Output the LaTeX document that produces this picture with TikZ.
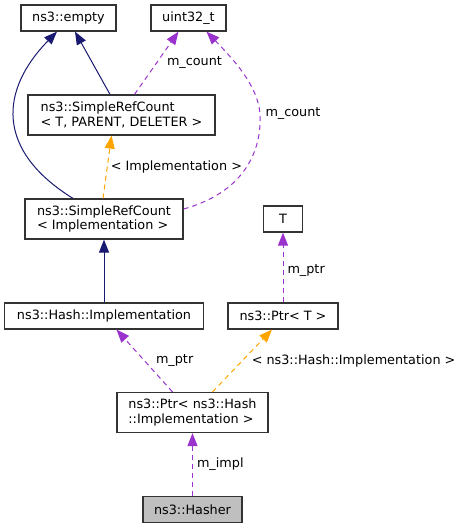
\documentclass[tikz,border=0pt]{standalone}
\usepackage{fontspec}
\setmainfont{DejaVu Sans}
\usetikzlibrary{arrows.meta, positioning}
\definecolor{inheritblue}{HTML}{191970}
\definecolor{memberpurple}{HTML}{9A32CD}
\definecolor{tmplorange}{HTML}{FFA500}
\definecolor{hashergray}{HTML}{BFBFBF}
\tikzstyle{classbox} = [rectangle, draw=black!80, line width=1.2pt, fill=white, inner sep=0pt, minimum height=26pt, text centered, font=\fontsize{12.8}{14.3}\selectfont]
\tikzstyle{twoline} = [classbox, minimum height=40pt, align=left]
\tikzstyle{inherit} = [draw=inheritblue, line width=1pt, -{Triangle[length=13pt,width=10pt]}]
\tikzstyle{member} = [draw=memberpurple, line width=1pt, dash pattern=on 5pt off 4pt, -{Triangle[length=13pt,width=10pt]}]
\tikzstyle{tmpl} = [draw=tmplorange, line width=1pt, dash pattern=on 5pt off 4pt, -{Triangle[length=13pt,width=10pt]}]
\tikzstyle{elabel} = [inner sep=1pt, font=\fontsize{12.8}{14.3}\selectfont, text=black]

\begin{document}
\begin{tikzpicture}[node distance=97pt, x=1pt, y=1pt]
    \useasboundingbox (0,0) rectangle (463,-528);
    % 类节点
    \node (empty) [classbox, minimum width=95pt] at (68.5,-18) {ns3::empty};
    \node (uint) [classbox, minimum width=75pt, right of=empty, xshift=23pt] {uint32\_t};
    \node (srctpd) [twoline, minimum width=187pt, below of=empty, xshift=53pt] {ns3::SimpleRefCount\\< T, PARENT, DELETER >};
    \node (srcimpl) [twoline, minimum width=158pt, below of=srctpd, xshift=-17.5pt, yshift=-7pt] {ns3::SimpleRefCount\\< Implementation >};
    \node (T) [classbox, minimum width=39pt, right of=srcimpl, xshift=82pt] {T};
    \node (hashimpl) [classbox, minimum width=199pt, below of=srcimpl] {ns3::Hash::Implementation};
    \node (ptrT) [classbox, minimum width=110pt, below of=T] {ns3::Ptr< T >};
    \node (ptrhash) [twoline, minimum width=151pt, below of=hashimpl, xshift=88.5pt, yshift=0.5pt] {ns3::Ptr< ns3::Hash\\::Implementation >};
    \node (hasher) [classbox, fill=hashergray, minimum width=99pt, below of=ptrhash] {ns3::Hasher};

    % 连接线
    \draw [inherit] ([xshift=-31pt]srcimpl.north) .. controls (-5,-150) and (0,-90) .. ([xshift=-11.5pt]empty.south);
    \draw [inherit] ([xshift=-11.5pt]srctpd.north) -- ([xshift=6.5pt]empty.south);
    \draw [member] ([xshift=13pt]srctpd.north) -- node[elabel, pos=0.5, right=9pt] {m\_count} ([xshift=-10pt]uint.south);
    \draw [member] ([yshift=10pt]srcimpl.east) .. controls (245,-192) and (262,-150) .. (260,-114) node[elabel, right=4pt] {m\_count} .. controls (258,-85) and (232,-58) .. ([xshift=18pt]uint.south);
    \draw [tmpl] ([xshift=-1pt]srcimpl.north) -- node[elabel, pos=0.5, right=2pt] {< Implementation >} ([xshift=-10pt]srctpd.south);
    \draw [inherit] (hashimpl) -- (srcimpl);
    \draw [member] (ptrT) -- node[elabel, pos=0.45, right=3pt] {m\_ptr} (T);
    \draw [member] ([xshift=-20pt]ptrhash.north) -- node[elabel, pos=0.5, right=10pt] {m\_ptr} ([xshift=12.5pt]hashimpl.south);
    \draw [tmpl] ([xshift=20pt]ptrhash.north) -- node[elabel, pos=0.5, right=8pt] {< ns3::Hash::Implementation >} ([xshift=-11pt]ptrT.south);
    \draw [member] (hasher) -- node[elabel, pos=0.5, right=3pt] {m\_impl} (ptrhash);
\end{tikzpicture}
\end{document}
